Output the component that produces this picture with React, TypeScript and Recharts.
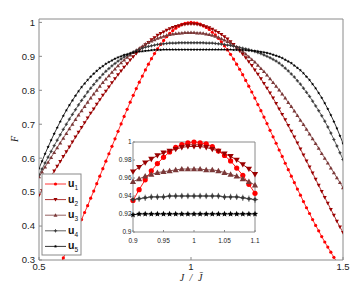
import React from 'react';
import { LineChart, Line, XAxis, YAxis } from 'recharts';

// J / J-bar values
const ratio = [
  0.5, 0.51, 0.52, 0.53, 0.54, 0.55, 0.56, 0.57, 0.58, 0.59,
  0.6, 0.61, 0.62, 0.63, 0.64, 0.65, 0.66, 0.67, 0.68, 0.69,
  0.7, 0.71, 0.72, 0.73, 0.74, 0.75, 0.76, 0.77, 0.78, 0.79,
  0.8, 0.81, 0.82, 0.83, 0.84, 0.85, 0.86, 0.87, 0.88, 0.89,
  0.9, 0.91, 0.92, 0.93, 0.94, 0.95, 0.96, 0.97, 0.98, 0.99,
  1,
  1.01, 1.02, 1.03, 1.04, 1.05, 1.06, 1.07, 1.08, 1.09, 1.1,
  1.11, 1.12, 1.13, 1.14, 1.15, 1.16, 1.17, 1.18, 1.19, 1.2,
  1.21, 1.22, 1.23, 1.24, 1.25, 1.26, 1.27, 1.28, 1.29, 1.3,
  1.31, 1.32, 1.33, 1.34, 1.35, 1.36, 1.37, 1.38, 1.39, 1.4,
  1.41, 1.42, 1.43, 1.44, 1.45, 1.46, 1.47, 1.48, 1.49, 1.5,
];

const u1 = [
  0.187, 0.200, 0.213, 0.227, 0.242, 0.257, 0.273, 0.289, 0.306, 0.324,
  0.342, 0.360, 0.379, 0.399, 0.419, 0.440, 0.460, 0.482, 0.503, 0.525,
  0.547, 0.569, 0.591, 0.613, 0.635, 0.657, 0.679, 0.701, 0.723, 0.744,
  0.765, 0.785, 0.805, 0.824, 0.842, 0.860, 0.877, 0.893, 0.908, 0.922,
  0.935, 0.947, 0.958, 0.968, 0.976, 0.983, 0.989, 0.994, 0.997, 0.999,
  1.000,
  0.999, 0.998, 0.995, 0.990, 0.985, 0.979, 0.971, 0.963, 0.953, 0.943,
  0.931, 0.919, 0.906, 0.892, 0.877, 0.862, 0.846, 0.829, 0.812, 0.795,
  0.777, 0.758, 0.740, 0.721, 0.702, 0.682, 0.663, 0.644, 0.624, 0.605,
  0.585, 0.566, 0.547, 0.528, 0.509, 0.491, 0.472, 0.454, 0.437, 0.419,
  0.402, 0.386, 0.369, 0.353, 0.338, 0.323, 0.308, 0.294, 0.280, 0.267,
];

const u2 = [
  0.491, 0.505, 0.519, 0.533, 0.547, 0.562, 0.576, 0.590, 0.605, 0.619,
  0.633, 0.648, 0.662, 0.676, 0.690, 0.704, 0.718, 0.732, 0.745, 0.759,
  0.772, 0.785, 0.797, 0.810, 0.822, 0.834, 0.846, 0.857, 0.868, 0.878,
  0.889, 0.899, 0.908, 0.917, 0.926, 0.934, 0.941, 0.949, 0.955, 0.962,
  0.967, 0.972, 0.977, 0.981, 0.985, 0.988, 0.990, 0.992, 0.994, 0.995,
  0.995,
  0.995, 0.994, 0.992, 0.990, 0.987, 0.984, 0.980, 0.975, 0.970, 0.964,
  0.958, 0.951, 0.943, 0.935, 0.926, 0.916, 0.906, 0.896, 0.884, 0.873,
  0.860, 0.847, 0.834, 0.820, 0.806, 0.792, 0.777, 0.761, 0.745, 0.729,
  0.713, 0.696, 0.679, 0.662, 0.645, 0.627, 0.609, 0.592, 0.574, 0.556,
  0.538, 0.520, 0.502, 0.484, 0.467, 0.449, 0.432, 0.414, 0.397, 0.381,
];

const u3 = [
  0.545, 0.559, 0.574, 0.588, 0.602, 0.617, 0.631, 0.645, 0.659, 0.673,
  0.687, 0.700, 0.714, 0.727, 0.740, 0.752, 0.765, 0.777, 0.789, 0.800,
  0.812, 0.823, 0.833, 0.843, 0.853, 0.863, 0.872, 0.881, 0.889, 0.897,
  0.904, 0.911, 0.918, 0.924, 0.930, 0.936, 0.941, 0.945, 0.949, 0.953,
  0.956, 0.959, 0.962, 0.964, 0.966, 0.967, 0.968, 0.969, 0.970, 0.970,
  0.970,
  0.970, 0.969, 0.969, 0.968, 0.966, 0.964, 0.962, 0.959, 0.956, 0.952,
  0.948, 0.944, 0.939, 0.933, 0.927, 0.921, 0.914, 0.907, 0.899, 0.891,
  0.883, 0.874, 0.864, 0.855, 0.845, 0.834, 0.823, 0.812, 0.801, 0.789,
  0.777, 0.764, 0.752, 0.739, 0.726, 0.712, 0.699, 0.685, 0.671, 0.657,
  0.643, 0.629, 0.614, 0.600, 0.586, 0.571, 0.557, 0.542, 0.528, 0.513,
];

const u4 = [
  0.551, 0.568, 0.586, 0.603, 0.620, 0.637, 0.653, 0.669, 0.685, 0.700,
  0.715, 0.729, 0.743, 0.757, 0.770, 0.782, 0.795, 0.806, 0.817, 0.828,
  0.837, 0.847, 0.856, 0.864, 0.872, 0.879, 0.886, 0.892, 0.898, 0.903,
  0.908, 0.913, 0.917, 0.920, 0.924, 0.927, 0.929, 0.931, 0.933, 0.935,
  0.936, 0.937, 0.938, 0.939, 0.939, 0.939, 0.940, 0.940, 0.940, 0.940,
  0.940,
  0.940, 0.940, 0.940, 0.940, 0.939, 0.939, 0.939, 0.938, 0.937, 0.936,
  0.935, 0.933, 0.932, 0.930, 0.928, 0.926, 0.924, 0.922, 0.920, 0.917,
  0.914, 0.911, 0.908, 0.904, 0.900, 0.896, 0.891, 0.886, 0.880, 0.873,
  0.865, 0.857, 0.848, 0.839, 0.828, 0.818, 0.806, 0.794, 0.782, 0.768,
  0.754, 0.740, 0.725, 0.709, 0.692, 0.674, 0.655, 0.636, 0.616, 0.596,
];

const u5 = [
  0.570, 0.591, 0.613, 0.633, 0.653, 0.672, 0.690, 0.708, 0.725, 0.741,
  0.756, 0.770, 0.784, 0.797, 0.809, 0.820, 0.830, 0.840, 0.849, 0.857,
  0.865, 0.871, 0.878, 0.883, 0.888, 0.893, 0.897, 0.900, 0.904, 0.906,
  0.909, 0.911, 0.913, 0.914, 0.915, 0.916, 0.917, 0.918, 0.919, 0.919,
  0.919, 0.920, 0.920, 0.920, 0.920, 0.920, 0.920, 0.920, 0.920, 0.920,
  0.920,
  0.920, 0.920, 0.920, 0.920, 0.920, 0.920, 0.920, 0.920, 0.920, 0.920,
  0.920, 0.920, 0.920, 0.919, 0.919, 0.919, 0.919, 0.918, 0.917, 0.917,
  0.916, 0.915, 0.913, 0.912, 0.910, 0.908, 0.905, 0.902, 0.899, 0.895,
  0.890, 0.885, 0.880, 0.873, 0.866, 0.859, 0.850, 0.840, 0.830, 0.818,
  0.806, 0.792, 0.778, 0.762, 0.745, 0.727, 0.708, 0.688, 0.666, 0.644,
];

const mainXTicks = [0.5, 1, 1.5];
const mainYTicks = [0.3, 0.4, 0.5, 0.6, 0.7, 0.8, 0.9, 1];
const insetXTicks = [0.9, 0.95, 1, 1.05, 1.1];
const insetYTicks = [0.9, 0.92, 0.94, 0.96, 0.98, 1];

const seriesKeys = ['u1', 'u2', 'u3', 'u4', 'u5'];
const seriesIndex = ['1', '2', '3', '4', '5'];
const seriesColors = ['#ff0000', '#9a0000', '#7a3838', '#383838', '#000000'];
const seriesShapes = ['circle', 'tdown', 'tup', 'plusdot', 'star'];

const rows = ratio.map((r, i) => ({ r, u1: u1[i], u2: u2[i], u3: u3[i], u4: u4[i], u5: u5[i] }));
const insetRows = rows.filter((d) => d.r > 0.8999 && d.r < 1.1001);

const SANS = '"Liberation Sans", Arial, Helvetica, sans-serif';
const SERIF = '"Liberation Serif", "Times New Roman", serif';
const FRAME = '#8a8a8a';

function drawMarker(kind: string, cx: number, cy: number, s: number, color: string, key: string) {
  switch (kind) {
    case 'circle':
      return <circle key={key} cx={cx} cy={cy} r={s} fill={color} />;
    case 'tdown':
      return (
        <polygon key={key} fill={color}
          points={`${cx - s},${cy - 0.75 * s} ${cx + s},${cy - 0.75 * s} ${cx},${cy + s}`} />
      );
    case 'tup':
      return (
        <polygon key={key} fill={color}
          points={`${cx - s},${cy + 0.75 * s} ${cx + s},${cy + 0.75 * s} ${cx},${cy - s}`} />
      );
    case 'plusdot':
      return (
        <g key={key}>
          <circle cx={cx} cy={cy} r={s * 0.72} fill={color} />
          <line x1={cx - s * 1.3} x2={cx + s * 1.3} y1={cy} y2={cy} stroke={color} strokeWidth={0.8} />
          <line x1={cx} x2={cx} y1={cy - s * 1.3} y2={cy + s * 1.3} stroke={color} strokeWidth={0.8} />
        </g>
      );
    default: {
      const pts: string[] = [];
      for (let k = 0; k < 10; k++) {
        const a = (-90 + k * 36) * (Math.PI / 180);
        const rr = k % 2 === 0 ? s * 1.15 : s * 0.5;
        pts.push(`${cx + rr * Math.cos(a)},${cy + rr * Math.sin(a)}`);
      }
      return <polygon key={key} points={pts.join(' ')} fill={color} />;
    }
  }
}

const makeDot = (kind: string, s: number, color: string) => (props: any) => {
  const { cx, cy, index } = props;
  if (typeof cx !== 'number' || typeof cy !== 'number' || isNaN(cx) || isNaN(cy)) {
    return <g key={`e${index}`} />;
  }
  return drawMarker(kind, cx, cy, s, color, `m${index}`);
};

const mainSizes = [1.6, 2.0, 2.0, 1.3, 1.5];
const insetSizes = [2.6, 3.1, 3.1, 2.4, 2.8];

const mainTick = { fill: '#222', fontSize: 9.5, fontFamily: SANS };
const insetTick = { fill: '#222', fontSize: 6.5, fontFamily: SANS };

export default function App() {
  return (
    <div style={{ position: 'absolute', left: 0, top: 0, width: 354, height: 284, background: '#fff' }}>
      <div style={{ position: 'absolute', left: 0, top: 0 }}>
        <LineChart width={354} height={284} data={rows} margin={{ top: 0, right: 0, bottom: 0, left: 0 }}>
          <XAxis xAxisId="b" dataKey="r" type="number" domain={[0.5, 1.5]} ticks={mainXTicks}
            orientation="bottom" height={24} tickSize={-3} tickMargin={6} interval={0}
            stroke={FRAME} tick={mainTick} allowDataOverflow />
          <XAxis xAxisId="t" dataKey="r" type="number" domain={[0.5, 1.5]} ticks={mainXTicks}
            orientation="top" height={19} tickSize={-3} interval={0} tick={false} stroke={FRAME} />
          <YAxis yAxisId="l" type="number" domain={[0.3, 1.01]} ticks={mainYTicks} width={39}
            tickSize={-3} tickMargin={7} interval={0} stroke={FRAME} tick={mainTick} allowDataOverflow />
          <YAxis yAxisId="r" orientation="right" type="number" domain={[0.3, 1.01]} ticks={mainYTicks}
            width={11} tickSize={-3} interval={0} tick={false} stroke={FRAME} />
          {seriesKeys.map((k, i) => (
            <Line key={k} xAxisId="b" yAxisId="l" dataKey={k} type="linear"
              stroke={seriesColors[i]} strokeWidth={0.8}
              dot={makeDot(seriesShapes[i], mainSizes[i], seriesColors[i])}
              activeDot={false} isAnimationActive={false} />
          ))}
        </LineChart>
      </div>

      <div style={{ position: 'absolute', left: 111, top: 136 }}>
        <LineChart width={152} height={110} data={insetRows} margin={{ top: 0, right: 0, bottom: 0, left: 0 }}>
          <XAxis xAxisId="b" dataKey="r" type="number" domain={[0.9, 1.1]} ticks={insetXTicks}
            orientation="bottom" height={14} tickSize={-2} tickMargin={8} interval={0}
            stroke={FRAME} tick={insetTick} />
          <XAxis xAxisId="t" dataKey="r" type="number" domain={[0.9, 1.1]} ticks={insetXTicks}
            orientation="top" height={6} tickSize={-2} interval={0} tick={false} stroke={FRAME} />
          <YAxis yAxisId="l" type="number" domain={[0.9, 1]} ticks={insetYTicks} width={22}
            tickSize={-2} tickMargin={3.5} interval={0} stroke={FRAME} tick={insetTick} />
          <YAxis yAxisId="r" orientation="right" type="number" domain={[0.9, 1]} ticks={insetYTicks}
            width={8} tickSize={-2} interval={0} tick={false} stroke={FRAME} />
          {seriesKeys.map((k, i) => (
            <Line key={k} xAxisId="b" yAxisId="l" dataKey={k} type="linear"
              stroke={seriesColors[i]} strokeWidth={0.9}
              dot={makeDot(seriesShapes[i], insetSizes[i], seriesColors[i])}
              activeDot={false} isAnimationActive={false} />
          ))}
        </LineChart>
      </div>

      <svg width={354} height={284} style={{ position: 'absolute', left: 0, top: 0, pointerEvents: 'none' }}>
        <text x={14} y={139} transform="rotate(-90 14 139)" textAnchor="middle" dominantBaseline="central"
          fontFamily={SERIF} fontStyle="italic" fontSize={10} fill="#222">F</text>
        <text x={191} y={281} textAnchor="middle" fontFamily={SERIF} fontStyle="italic" fontSize={10}
          fill="#222" wordSpacing={3}>{'J / J\u0304'}</text>

        <rect x={42} y={174} width={39} height={81} fill="#fff" stroke={FRAME} strokeWidth={1} />
        {seriesKeys.map((k, i) => {
          const y = 184 + i * 15.6;
          return (
            <g key={`lg${k}`}>
              <line x1={45} x2={66} y1={y} y2={y} stroke={seriesColors[i]} strokeWidth={0.8} />
              {drawMarker(seriesShapes[i], 55.5, y, mainSizes[i], seriesColors[i], `lm${k}`)}
              <text x={68} y={y + 3} fontFamily={SANS} fontWeight="bold" fontSize={10.5} fill="#111">
                u<tspan fontSize={6.5} fontWeight="normal" dy={3}>{seriesIndex[i]}</tspan>
              </text>
            </g>
          );
        })}
      </svg>
    </div>
  );
}
